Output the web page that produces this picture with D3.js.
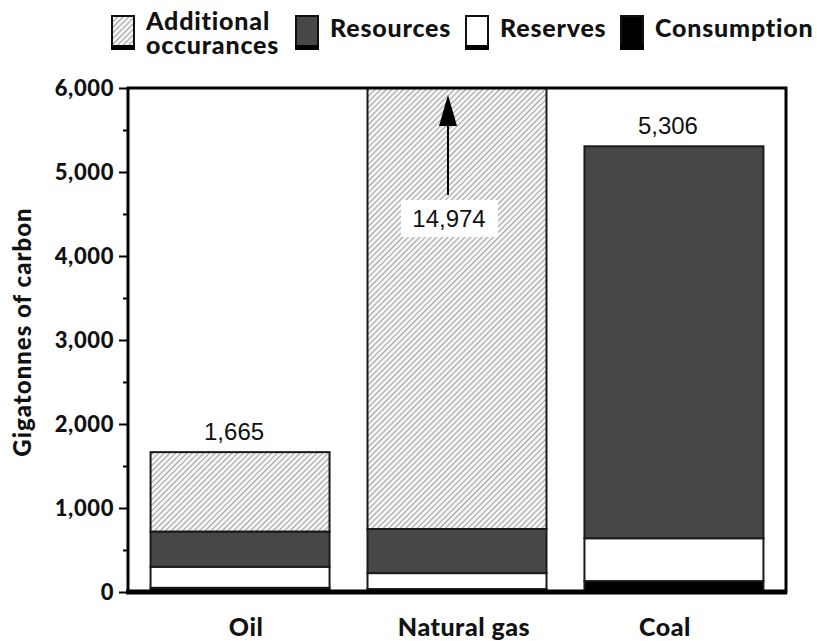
<!DOCTYPE html>
<html><head><meta charset="utf-8">
<script src="https://cdn.jsdelivr.net/npm/d3@7"></script>
<style>
html,body{margin:0;padding:0;background:#fff;}
svg{display:block;}
.bold{font-family:Lato,"DejaVu Sans",sans-serif;font-weight:900;fill:#111;}
.num{font-family:"Liberation Sans",Arial,sans-serif;fill:#111;}
</style></head>
<body>
<svg id="c" width="817" height="641"></svg>
<script>
const categories = ["Oil", "Natural gas", "Coal"];
const seriesNames = ["Consumption", "Reserves", "Resources", "Additional occurances"];
const consumption = [50, 35, 130];
const reserves = [250, 190, 510];
const resources = [420, 525, 4666];
const additional = [945, 14224, 0];
const totals = [1665, 14974, 5306];
const yTicks = [0, 1000, 2000, 3000, 4000, 5000, 6000];
const yMinorTicks = [500, 1500, 2500, 3500, 4500, 5500];
const yMax = 6000;
const arrowFrom = 4726, arrowTo = 5917; // arrow for clipped natural gas bar

const svg = d3.select("#c");
const L = 128, R = 786, T = 88, B = 592;
const y = d3.scaleLinear().domain([0, yMax]).range([B, T]);
const x = d3.scaleBand().domain(categories).range([L, R]).paddingInner(0.175).paddingOuter(0.104);

// hatch pattern
const defs = svg.append("defs");
const pat = defs.append("pattern").attr("id", "hatch").attr("patternUnits", "userSpaceOnUse")
  .attr("width", 4).attr("height", 4).attr("patternTransform", "rotate(45)");
pat.append("rect").attr("width", 4).attr("height", 4).attr("fill", "#f4f4f4");
pat.append("line").attr("x1", 0).attr("y1", 0).attr("x2", 0).attr("y2", 4)
  .attr("stroke", "#8a8a8a").attr("stroke-width", 1.6);
defs.append("clipPath").attr("id", "plotclip").append("rect")
  .attr("x", L).attr("y", T).attr("width", R - L).attr("height", B - T);

const fills = {"Consumption": "#000", "Reserves": "#fff", "Resources": "#474747", "Additional occurances": "url(#hatch)"};
const rows = categories.map((c, i) => ({cat: c, Consumption: consumption[i], Reserves: reserves[i], Resources: resources[i], "Additional occurances": additional[i]}));
const stack = d3.stack().keys(seriesNames)(rows);

const bars = svg.append("g").attr("clip-path", "url(#plotclip)");
stack.forEach(layer => {
  bars.selectAll(null).data(layer.filter(d => d[1] > d[0])).join("rect")
    .attr("x", d => x(d.data.cat))
    .attr("width", x.bandwidth())
    .attr("y", d => y(Math.min(d[1], yMax)))
    .attr("height", d => y(d[0]) - y(Math.min(d[1], yMax)))
    .attr("fill", fills[layer.key])
    .attr("stroke", "#1a1a1a").attr("stroke-width", 2);
});

// frame
svg.append("rect").attr("x", L).attr("y", T).attr("width", R - L).attr("height", B - T)
  .attr("fill", "none").attr("stroke", "#000").attr("stroke-width", 3);
svg.append("line").attr("x1", L - 2).attr("x2", R + 1).attr("y1", B).attr("y2", B)
  .attr("stroke", "#000").attr("stroke-width", 5);

// y axis
const yAxis = d3.axisLeft(y).tickValues(yTicks).tickSize(9).tickPadding(5)
  .tickFormat(d3.format(","));
const gy = svg.append("g").attr("transform", `translate(${L},0)`).call(yAxis);
gy.select(".domain").remove();
gy.selectAll(".tick line").attr("stroke", "#000").attr("stroke-width", 2);
gy.selectAll(".tick text").attr("class", "bold").attr("font-size", 22)
  .attr("letter-spacing", "0.6px").attr("dy", "0.36em");
const gm = svg.append("g").attr("transform", `translate(${L},0)`)
  .call(d3.axisLeft(y).tickValues(yMinorTicks).tickSize(5).tickFormat(""));
gm.select(".domain").remove();
gm.selectAll(".tick line").attr("stroke", "#000").attr("stroke-width", 2);

// x labels
const labelShift = [6, 7, -9];
svg.selectAll(".xl").data(categories).join("text").attr("class", "bold")
  .attr("x", (d, i) => x(d) + x.bandwidth() / 2 + labelShift[i]).attr("y", 636)
  .attr("text-anchor", "middle").attr("font-size", 25).attr("letter-spacing", "0.5px").text(d => d);

// y title
svg.append("text").attr("class", "bold").attr("font-size", 24).attr("letter-spacing", "1px")
  .attr("transform", `translate(31,332) rotate(-90)`)
  .attr("text-anchor", "middle").text("Gigatonnes of carbon");

// total labels
const fmt = d3.format(",");
[0, 2].forEach(i => {
  svg.append("text").attr("class", "num").attr("font-size", 24).attr("text-anchor", "middle")
    .attr("x", x(categories[i]) + x.bandwidth() / 2 - 6).attr("y", y(totals[i]) - 12)
    .text(fmt(totals[i]));
});

// arrow for natural gas
const ax = x(categories[1]) + x.bandwidth() / 2 - 9;
svg.append("line").attr("x1", ax).attr("x2", ax).attr("y1", y(arrowFrom)).attr("y2", y(arrowTo) + 28)
  .attr("stroke", "#000").attr("stroke-width", 2);
svg.append("path").attr("d", `M${ax},${y(arrowTo)} L${ax - 9},${y(arrowTo) + 31} L${ax + 9},${y(arrowTo) + 31} Z`).attr("fill", "#000");
svg.append("rect").attr("x", ax - 47).attr("y", y(arrowFrom) + 5).attr("width", 97).attr("height", 37).attr("fill", "#fff");
svg.append("text").attr("class", "num").attr("font-size", 24).attr("text-anchor", "middle")
  .attr("x", ax + 1).attr("y", y(arrowFrom) + 32).text(fmt(totals[1]));

// legend
const legendItems = [
  {key: "Additional occurances", lines: ["Additional", "occurances"], x: 112},
  {key: "Resources", lines: ["Resources"], x: 296},
  {key: "Reserves", lines: ["Reserves"], x: 466},
  {key: "Consumption", lines: ["Consumption"], x: 621}
];
legendItems.forEach(it => {
  const g = svg.append("g").attr("transform", `translate(${it.x},16)`);
  g.append("rect").attr("x", 0).attr("y", 0).attr("width", 22).attr("height", 30)
    .attr("fill", fills[it.key]).attr("stroke", "#111").attr("stroke-width", 2);
  g.append("rect").attr("x", -1).attr("y", 29).attr("width", 24).attr("height", 5).attr("fill", "#000");
  const t = g.append("text").attr("class", "bold").attr("font-size", 25).attr("letter-spacing", "0.8px")
    .attr("x", 34).attr("y", it.lines.length > 1 ? 14 : 21);
  it.lines.forEach((ln, j) => t.append("tspan").attr("x", 34).attr("dy", j ? 24 : 0).text(ln));
});
</script>
</body></html>
